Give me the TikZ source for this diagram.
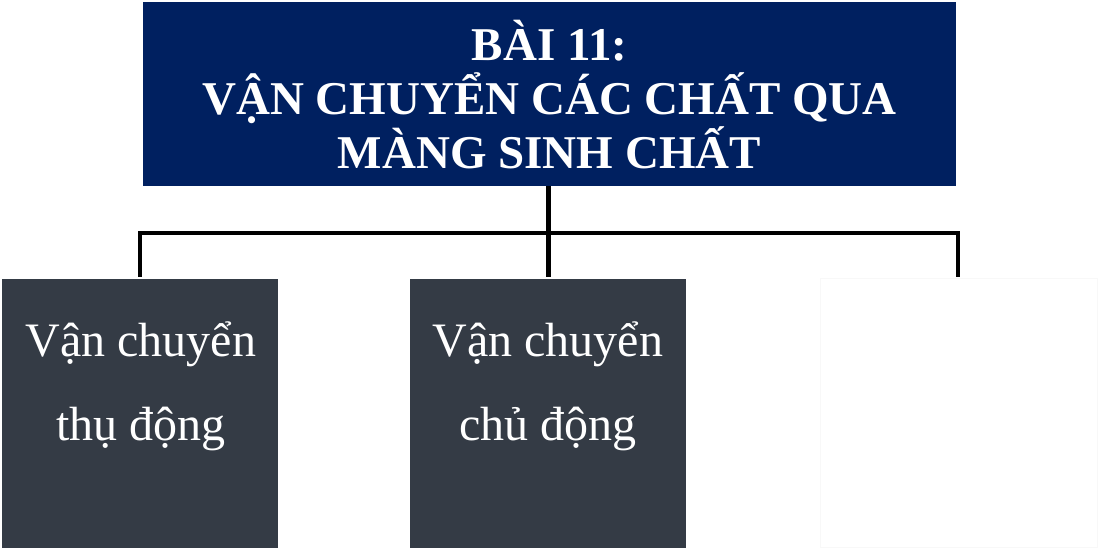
\documentclass[tikz,border=0pt]{standalone}
\usepackage{fontspec}
\setmainfont{Liberation Serif}
\definecolor{navy}{HTML}{002060}
\definecolor{slate}{HTML}{343B45}
\definecolor{faint}{HTML}{F8F8F8}
\begin{document}
\begin{tikzpicture}[x=1pt,y=-1pt,
  titlebox/.style={fill=navy,draw=none,minimum width=813pt,minimum height=184pt,inner sep=0pt},
  titletext/.style={text=white,align=center,font=\fontsize{47}{54}\selectfont\bfseries},
  darkbox/.style={fill=slate,draw=none,minimum width=276pt,minimum height=269pt,inner sep=0pt},
  whitebox/.style={fill=white,draw=faint,line width=0.8pt,minimum width=277pt,minimum height=269pt,inner sep=0pt},
  boxtext/.style={text=white,align=center,font=\fontsize{48}{84}\selectfont},
  conn/.style={line width=4.6pt,black}]
\useasboundingbox (0,0) rectangle (1099,550);
\node[titlebox] (title) at (549.5,94) {};
\node[titletext] (tt) at (549.5,95) {BÀI 11:\\VẬN CHUYỂN CÁC CHẤT QUA\\MÀNG SINH CHẤT};
\node[darkbox] (b1) at (140,413) {};
\node[darkbox] (b2) at (548,413) {};
\node[whitebox] (b3) at (958.5,413) {};
\node[boxtext] (t1) at (141,386) {Vận chuyển\\thụ động};
\node[boxtext] (t2) at (548,386) {Vận chuyển\\chủ động};
\node[boxtext] (t3) at (958.5,386) {Nhập bào và\\xuất bào};
\coordinate (hub) at (548.5,233);
\coordinate (hl) at (140,233);
\coordinate (hr) at (958,233);
\draw[conn] (title.south -| hub) -- (hub);
\draw[conn,line cap=rect] (hl) -- (hr);
\draw[conn] (hl) -- (hl |- 0,277);
\draw[conn] (hub) -- (hub |- 0,277);
\draw[conn] (hr) -- (hr |- 0,277);
\end{tikzpicture}
\end{document}
